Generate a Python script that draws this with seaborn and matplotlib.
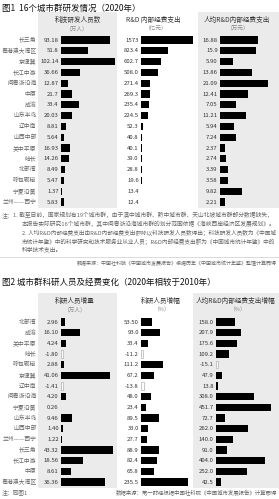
import matplotlib
matplotlib.use('Agg')
import matplotlib.pyplot as plt
import seaborn as sns
import pandas as pd
import numpy as np
from matplotlib.patches import Rectangle
from matplotlib.lines import Line2D
from matplotlib.transforms import blended_transform_factory

W, H = 279, 499
sns.set_theme(style='white')
plt.rcParams['font.family'] = ['Noto Sans CJK SC', 'DejaVu Sans']

# ---------------- data ----------------
fig1_regions = ["长三角", "粤港澳大湾区", "京津冀", "长江中游", "闽粤浙沿海", "中原", "成渝", "山东半岛",
                "辽中南", "山西中部", "关中平原", "哈长", "北部湾", "呼包鄂榆", "宁夏沿黄", "兰州——西宁"]
fig1_staff = ["93.18", "51.8", "102.14", "36.66", "12.87", "21.7", "33.4", "20.03",
              "8.81", "5.64", "16.93", "14.26", "8.49", "5.47", "1.37", "5.83"]
fig1_rd = ["1573", "823.4", "602.7", "508.0", "271.4", "269.3", "235.4", "224.5",
           "52.3", "40.8", "40.1", "39.0", "28.8", "19.6", "13.4", "12.4"]
fig1_rd_per = ["16.88", "15.9", "5.90", "13.86", "21.09", "12.41", "7.05", "11.21",
               "5.94", "7.24", "2.37", "2.74", "3.39", "3.58", "9.82", "2.21"]

fig2_regions = ["北部湾", "成渝", "关中平原", "哈长", "呼包鄂榆", "京津冀", "辽中南", "闽粤浙沿海",
                "宁夏沿黄", "山东半岛", "山西中部", "兰州——西宁", "长三角", "长江中游", "中原", "粤港澳大湾区"]
fig2_staff_inc = ["2.96", "16.10", "4.24", "-1.80", "2.88", "41.06", "-1.41", "4.20",
                  "0.26", "9.46", "1.40", "1.22", "43.32", "18.56", "8.61", "36.36"]
fig2_staff_pct = ["53.50", "93.0", "33.4", "-11.2", "111.2", "67.2", "-13.8", "48.0",
                  "23.4", "89.5", "33.0", "27.7", "88.9", "82.4", "65.8", "235.5"]
fig2_rd_per_pct = ["158.0", "207.9", "175.6", "109.2", "-15.1", "47.9", "13.8", "308.0",
                   "451.7", "72.7", "262.0", "140.0", "91.0", "404.0", "252.0", "42.5"]

# ---------------- figure ----------------
fig = plt.figure(figsize=(W / 100, H / 100), dpi=100)
fig.patch.set_facecolor('white')
renderer = fig.canvas.get_renderer()

GREY = '#ebebeb'
TXT = '#333333'
LAB = '#666666'


def fx(px):
    return px / W


def fy(py):
    return 1 - py / H


def grey_box(x0, x1, y0, y1):
    fig.patches.append(Rectangle((fx(x0), fy(y1)), (x1 - x0) / W, (y1 - y0) / H,
                                 transform=fig.transFigure, facecolor=GREY,
                                 edgecolor='none', zorder=-5))


def ftext(x, y, s, **kw):
    kw.setdefault('color', TXT)
    return fig.text(fx(x), fy(y), s, **kw)


def fit_text(x0, x1, y, s, size, **kw):
    t = ftext(x0, y, s, fontsize=size, ha='left', va='center', **kw)
    w = t.get_window_extent(renderer).width
    if w > (x1 - x0):
        t.set_fontsize(size * (x1 - x0) / w)
    return t


def column(regions, labels, x_bar, scale, y_top, y_bot, show_names=False):
    vals = np.array([float(v) for v in labels])
    n = len(vals)
    step = (y_bot - y_top) / (n - 1)
    width_px = 62
    ax = fig.add_axes([fx(x_bar), fy(y_bot + step / 2), width_px / W,
                       (y_bot - y_top + step) / H])
    ax.set_zorder(2)
    df = pd.DataFrame({'region': regions, 'mag': np.abs(vals)})
    sns.barplot(data=df, x='mag', y='region', orient='h', color='black',
                saturation=1, width=0.66, ax=ax, errorbar=None)
    ax.set_xlim(0, width_px / scale)
    ax.set_ylim(n - 0.5, -0.5)
    ax.axis('off')
    for p, v in zip(ax.patches, vals):
        p.set_edgecolor('none')
        if v < 0:
            p.set_facecolor('white')
            p.set_edgecolor('#b0b0b0')
            p.set_linewidth(0.5)
    for i, t in enumerate(labels):
        ax.annotate(t, xy=(0, i), xytext=(-1.6, 0), textcoords='offset points',
                    ha='right', va='center', fontsize=4.3, color=TXT)
    if show_names:
        tr = blended_transform_factory(fig.transFigure, ax.transData)
        for i, r in enumerate(regions):
            ax.text(fx(36.5), i, r, transform=tr, ha='right', va='center',
                    fontsize=4.2, color=LAB)
    return ax


# ================= Figure 1 =================
ftext(2, 8, "图1  16个城市群研发情况（2020年）", fontsize=6.1, va='center', ha='left', color='#111111')
grey_box(38, 117, 12, 208)
grey_box(198, 279, 12, 208)

ftext(78, 20, "科技研发人员数", fontsize=4.8, ha='center', va='center')
ftext(76, 29, "（万人）", fontsize=4.1, ha='center', va='center', color='#888888')
ftext(153, 20, "R&D 内部经费支出", fontsize=4.8, ha='center', va='center')
ftext(155, 29, "（亿元）", fontsize=4.1, ha='center', va='center', color='#888888')
ftext(237, 20, "人均R&D内部经费支出", fontsize=4.8, ha='center', va='center')
ftext(237, 29, "（万元）", fontsize=4.1, ha='center', va='center', color='#888888')

column(fig1_regions, fig1_staff, 61, 54 / 102.14, 40, 202, show_names=True)
column(fig1_regions, fig1_rd, 141, 52 / 1573, 40, 202)
column(fig1_regions, fig1_rd_per, 220, 48 / 21.09, 40, 202)

NOTE = 4.15
ftext(2, 215, "注：", fontsize=NOTE, va='center', color=LAB)
fit_text(13, 277, 215, "1. 截至目前，国家规划有19个城市群，由于滇中城市群、黔中城市群、天山北坡城市群部分数据缺失，",
         NOTE, color=LAB)
fit_text(22, 277, 224, "本报告实际研究16个城市群，其中闽粤浙沿海城市群的划分范围依据《海峡西岸经济区发展规划》。",
         NOTE, color=LAB)
fit_text(22, 277, 233, "2. 人均R&D内部经费支出由R&D内部经费支出额除以科技研发人员数得出；科技研发人员数为《中国城",
         NOTE, color=LAB)
fit_text(22, 277, 241.5, "市统计年鉴》中的科学研究和技术服务业从业人员；R&D内部经费支出额为《中国城市统计年鉴》中的",
         NOTE, color=LAB)
fit_text(22, 277, 250, "科学技术支出。", NOTE, color=LAB)
fig.lines.append(Line2D([fx(0), fx(279)], [fy(256.5), fy(256.5)], transform=fig.transFigure,
                        color='#cccccc', linewidth=0.5))
ftext(277, 263.5, "数据来源：中国社科院《中国城市发展报告》根据历年《中国城市统计年鉴》整理计算而得",
      fontsize=3.6, ha='right', va='center', color=LAB)

# ================= Figure 2 =================
ftext(2, 282, "图2 城市群科研人员及经费变化（2020年相较于2010年）", fontsize=6.1, va='center', ha='left',
      color='#111111')
grey_box(38, 117, 293, 488)
grey_box(193, 279, 293, 488)

ftext(75, 301, "科研人员增量", fontsize=4.8, ha='center', va='center')
ftext(74, 310, "（万人）", fontsize=4.1, ha='center', va='center', color='#888888')
ftext(161, 301, "科研人员增幅", fontsize=4.8, ha='center', va='center')
ftext(161, 310, "（%）", fontsize=4.1, ha='center', va='center', color='#888888')
ftext(235, 301, "人均R&D内部经费支出增幅", fontsize=4.8, ha='center', va='center')
ftext(237, 310, "（%）", fontsize=4.1, ha='center', va='center', color='#888888')

column(fig2_regions, fig2_staff_inc, 61, 52 / 43.32, 322, 482, show_names=True)
column(fig2_regions, fig2_staff_pct, 141, 47 / 235.5, 322, 482)
column(fig2_regions, fig2_rd_per_pct, 216, 55 / 451.7, 322, 482)

ftext(2, 492.5, "注：同图1", fontsize=NOTE, va='center', color=LAB)
ftext(277, 492.5, "数据来源：第一财经根据中国社科院《中国城市发展报告》计算而得",
      fontsize=3.9, ha='right', va='center', color=LAB)

fig.savefig('out.png', dpi=100, facecolor='white')
